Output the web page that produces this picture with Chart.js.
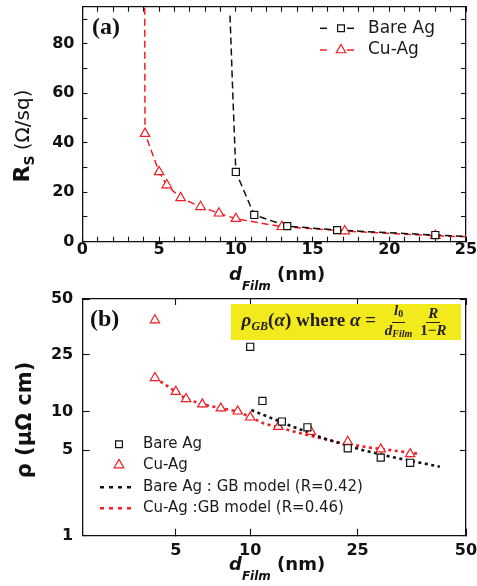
<!DOCTYPE html>
<html>
<head>
<meta charset="utf-8">
<script src="https://cdn.jsdelivr.net/npm/chart.js@4.4.0/dist/chart.umd.min.js"></script>
<style>
  html, body { margin: 0; padding: 0; background: #fff; }
  #wrap { position: relative; width: 477px; height: 586px; overflow: hidden; font-family: 'DejaVu Sans', sans-serif; color: #111; }
  .box { position: absolute; left: 0; width: 477px; }
  #boxA { top: 0; height: 290px; }
  #boxB { top: 290px; height: 296px; }
  .tag { position: absolute; font: bold 24px 'Liberation Serif', serif; line-height: 24px; }
  .ytitle { position: absolute; transform: translate(-50%, -50%) rotate(-90deg); white-space: nowrap; line-height: 24px; }
  .xtitle { position: absolute; left: 229px; white-space: nowrap; font: bold 18px 'DejaVu Sans', sans-serif; line-height: 18px; }
  .xtitle .d { font-style: italic; }
  .xtitle .sub { font-size: 12px; font-style: italic; vertical-align: -10px; }
  .eq { position: absolute; left: 231px; top: 304px; width: 230px; height: 36px; background: #f2ea1d;
        font: bold 19px 'Liberation Serif', serif; color: #231f20; display: flex; align-items: center; justify-content: center; white-space: nowrap; }
  .eq i { font-style: italic; }
  .eq .s { font-size: 12px; vertical-align: -4px; }
  .frac { display: inline-flex; flex-direction: column; align-items: center; vertical-align: middle; font-size: 15px; line-height: 15px; margin: 0 4px; }
  .frac .s { font-size: 10px; vertical-align: -2px; }
  .frac .n { border-bottom: 1.2px solid #231f20; padding: 0 2px 1px; }
</style>
</head>
<body>
<div id="wrap">
  <div class="box" id="boxA"><canvas id="rsChart"></canvas></div>
  <div class="box" id="boxB"><canvas id="rhoChart"></canvas></div>

  <div class="tag" style="left:92px; top:14px;">(a)</div>
  <div class="tag" style="left:90px; top:306px;">(b)</div>

  <div class="ytitle" style="left:25px; top:136px;"><span style="font-weight:bold; font-size:22px;">R</span><span style="font-weight:bold; font-size:14px; vertical-align:-5px;">S</span> <span style="font-size:20px;">(Ω/sq)</span></div>
  <div class="ytitle" style="left:24px; top:420px; font-weight:bold; font-size:21px;">ρ (μΩ cm)</div>

  <div class="xtitle" style="top:265px;"><span class="d">d</span><span class="sub">Film</span> (nm)</div>
  <div class="xtitle" style="top:555px;"><span class="d">d</span><span class="sub">Film</span> (nm)</div>

  <div class="eq"><span>
    <i>ρ</i><i class="s">GB</i>(<i>α</i>)&nbsp;where&nbsp;<i>α</i>&nbsp;=&nbsp;<span class="frac"><span class="n"><i>l</i><span class="s">0</span></span><span><i>d</i><i class="s">Film</i></span></span><span class="frac"><span class="n"><i>R</i></span><span>1−<i>R</i></span></span>
  </span></div>
</div>

<script>
  // ---- panel (a): sheet resistance vs film thickness ----
  const seriesNames = ['Bare Ag', 'Cu-Ag'];
  const rsFilmBare = [10, 11.2, 13.35, 16.6, 23];
  const rsBare = [28.2, 10.8, 6.3, 4.7, 2.7];
  const rsFilmCu = [4.08, 5, 5.5, 6.4, 7.7, 8.9, 10, 13, 17.1, 23];
  const rsCu = [43.7, 28.2, 22.9, 17.7, 14.1, 11.5, 9.3, 6.05, 4.3, 2.4];
  // dashed guide curves
  const rsCurveFilmBare = [9.62, 9.8, 10, 11.2, 13.35, 16.6, 23, 25];
  const rsCurveBare = [91.4, 60, 28.2, 10.8, 6.3, 4.7, 2.7, 2.1];
  const rsCurveFilmCu = [4.06, 4.08, 5, 5.5, 6.4, 7.7, 8.9, 10, 13, 17.1, 23, 25];
  const rsCurveCu = [99, 43.7, 28.2, 22.9, 17.7, 14.1, 11.5, 9.3, 6.05, 4.3, 2.4, 2.0];
  const rsXLabels = [0, 5, 10, 15, 20, 25];
  const rsYLabels = [0, 20, 40, 60, 80];

  // ---- panel (b): resistivity vs film thickness ----
  const rhoFilmBare = [10, 11.1, 13.1, 16.3, 23, 29, 35];
  const rhoBare = [27.5, 11.9, 8.4, 7.57, 5.18, 4.35, 3.95];
  const rhoFilmCu = [4.07, 4.07, 5, 5.5, 6.4, 7.6, 8.9, 10, 12.7, 16.8, 23, 29, 35];
  const rhoCu = [38.4, 17.2, 13.8, 12.3, 11.3, 10.6, 10.1, 9.07, 7.65, 7.0, 5.84, 5.09, 4.66];
  // GB model (dotted)
  const gbFilmBare = [10.1, 13.85, 18.7, 25.9, 30.8, 42.3];
  const gbBare = [10.3, 7.9, 6.2, 5.0, 4.43, 3.67];
  const gbFilmCu = [4.07, 5, 5.5, 6.4, 7.6, 8.9, 11.2, 15.75, 21.5, 27.1, 36.9];
  const gbCu = [17.2, 13.8, 12.3, 11.3, 10.6, 10.1, 8.14, 6.7, 5.73, 5.24, 4.69];
  const gbNames = ['Bare Ag : GB model (R=0.42)', 'Cu-Ag :GB model (R=0.46)'];
  const rhoXTicks = [5, 10, 25, 50];
  const rhoYTicks = [1, 5, 10, 25, 50];

  const red = '#ee1f26';
  const ink = '#111';

  Chart.defaults.font.family = "'DejaVu Sans', sans-serif";
  Chart.defaults.color = ink;

  function pts(xs, ys) { return xs.map((x, i) => ({ x: x, y: ys[i] })); }

  // the (b) axes are log-like but stretched piecewise between the labelled ticks
  const warps = {
    x: { knots: [2, 5, 10, 25, 50], at: [0, 0.243, 0.437, 0.717, 1] },
    y: { knots: [1, 5, 10, 25, 50], at: [0, 0.361, 0.523, 0.766, 1] }
  };

  class WarpedLogScale extends Chart.LinearScale {
    static id = 'warpedLog';
    getPixelForValue(v) {
      if (v == null || isNaN(v) || v <= 0) return NaN;
      const w = warps[this.options.warp];
      let i = 0;
      while (i < w.knots.length - 2 && v > w.knots[i + 1]) i++;
      const t = Math.log(v / w.knots[i]) / Math.log(w.knots[i + 1] / w.knots[i]);
      return this.getPixelForDecimal(w.at[i] + t * (w.at[i + 1] - w.at[i]));
    }
    getValueForPixel(p) {
      const w = warps[this.options.warp];
      const d = this.getDecimalForPixel(p);
      let i = 0;
      while (i < w.at.length - 2 && d > w.at[i + 1]) i++;
      const t = (d - w.at[i]) / (w.at[i + 1] - w.at[i]);
      return w.knots[i] * Math.pow(w.knots[i + 1] / w.knots[i], t);
    }
  }
  Chart.register(WarpedLogScale);

  function axis(o) {
    return {
      type: o.type || 'linear',
      position: o.pos,
      min: o.min, max: o.max,
      warp: o.warp,
      afterBuildTicks: s => { s.ticks = o.ticks.map(v => ({ value: v })); },
      afterFit: s => {
        if (s.isHorizontal()) { s.height = o.size; s.paddingLeft = 0; s.paddingRight = 0; }
        else { s.width = o.size; s.paddingTop = 0; s.paddingBottom = 0; }
      },
      ticks: {
        autoSkip: false, maxRotation: 0, padding: o.pad || 0, color: ink,
        font: { size: 16, weight: 'bold' },
        callback: v => (o.labels || []).includes(v) ? String(v) : ''
      },
      grid: { drawOnChartArea: false, drawTicks: true, tickLength: -o.tick, tickColor: ink, tickWidth: 1.1 },
      border: { display: true, color: ink, width: 1.3 }
    };
  }

  function insideLegend(rows) {
    return {
      id: 'insideLegend',
      afterDraw(chart) {
        const ctx = chart.ctx;
        ctx.save();
        rows.forEach(r => {
          ctx.strokeStyle = r.color;
          ctx.lineWidth = r.lineWidth || 1.5;
          ctx.setLineDash(r.dash || []);
          (r.segs || []).forEach(s => {
            ctx.beginPath(); ctx.moveTo(s[0], r.y); ctx.lineTo(s[1], r.y); ctx.stroke();
          });
          ctx.setLineDash([]);
          if (r.marker) {
            ctx.fillStyle = '#fff';
            ctx.lineWidth = 1.2;
            Chart.helpers.drawPoint(ctx, { pointStyle: r.marker, radius: r.radius, rotation: 0, borderWidth: 1.2 }, r.mx, r.y);
          }
          ctx.fillStyle = '#1a1a1a';
          ctx.font = r.font;
          ctx.textBaseline = 'middle';
          ctx.textAlign = 'left';
          ctx.fillText(r.label, r.tx, r.y);
        });
        ctx.restore();
      }
    };
  }

  const minorX = Array.from({ length: 26 }, (_, i) => i);
  const minorY = Array.from({ length: 10 }, (_, i) => i * 10);

  const rsChart = new Chart(document.getElementById('rsChart'), {
    type: 'scatter',
    data: {
      datasets: [
        { label: seriesNames[0], data: pts(rsFilmBare, rsBare), pointStyle: 'rect', pointRadius: 5,
          borderColor: ink, backgroundColor: '#fff', borderWidth: 1.2 },
        { label: 'bare-x', data: pts(rsFilmBare, rsBare), pointStyle: 'cross',
          pointRadius: c => c.dataIndex === 0 ? 0 : 3.4, borderColor: ink, borderWidth: 1 },
        { label: seriesNames[1], data: pts(rsFilmCu, rsCu), pointStyle: 'triangle', pointRadius: 5.5,
          borderColor: red, backgroundColor: '#fff', borderWidth: 1.2 },
        { label: 'cu-x', data: pts(rsFilmCu, rsCu), pointStyle: 'cross', pointRadius: 3.5,
          borderColor: red, borderWidth: 1 },
        { label: 'bare-curve', data: pts(rsCurveFilmBare, rsCurveBare), showLine: true, pointRadius: 0,
          borderColor: ink, borderWidth: 1.5, borderDash: [7, 4] },
        { label: 'cu-curve', data: pts(rsCurveFilmCu, rsCurveCu), showLine: true, pointRadius: 0,
          borderColor: red, borderWidth: 1.5, borderDash: [7, 4] }
      ]
    },
    options: {
      responsive: true, maintainAspectRatio: false, animation: false, events: [],
      layout: { padding: { top: 5.5, right: 11, left: 0, bottom: 0 } },
      plugins: { legend: { display: false }, tooltip: { enabled: false } },
      scales: {
        x: axis({ pos: 'bottom', min: 0, max: 25, ticks: minorX, labels: rsXLabels, tick: 5, pad: 4, size: 48.3 }),
        y: axis({ pos: 'left', min: 0, max: 95, ticks: minorY, labels: rsYLabels, tick: 5, pad: 13, size: 82.4 }),
        xTop: axis({ pos: 'top', min: 0, max: 25, ticks: minorX, tick: 5, size: 0 }),
        yRight: axis({ pos: 'right', min: 0, max: 95, ticks: minorY, tick: 5, size: 0 })
      }
    },
    plugins: [insideLegend([
      { label: seriesNames[0], color: ink, y: 28.3, segs: [[320, 327], [347, 354]], dash: [], marker: 'rect', radius: 4.8, mx: 341, tx: 368, font: "17px 'DejaVu Sans'" },
      { label: seriesNames[1], color: red, y: 50, segs: [[320, 327], [347, 354]], dash: [], marker: 'triangle', radius: 5.5, mx: 341, tx: 368, font: "17px 'DejaVu Sans'" }
    ])]
  });

  const rhoChart = new Chart(document.getElementById('rhoChart'), {
    type: 'scatter',
    data: {
      datasets: [
        { label: seriesNames[0], data: pts(rhoFilmBare, rhoBare), pointStyle: 'rect', pointRadius: 5,
          borderColor: ink, backgroundColor: '#fff', borderWidth: 1.2 },
        { label: 'bare-x', data: pts(rhoFilmBare, rhoBare), pointStyle: 'cross',
          pointRadius: c => c.dataIndex === 0 ? 0 : 3.4, borderColor: ink, borderWidth: 1 },
        { label: seriesNames[1], data: pts(rhoFilmCu, rhoCu), pointStyle: 'triangle', pointRadius: 5.4,
          borderColor: red, backgroundColor: '#fff', borderWidth: 1.2 },
        { label: 'cu-x', data: pts(rhoFilmCu, rhoCu), pointStyle: 'cross', pointRadius: 3.5,
          borderColor: red, borderWidth: 1 },
        { label: gbNames[0], data: pts(gbFilmBare, gbBare), showLine: true, pointRadius: 0,
          borderColor: ink, borderWidth: 2.6, borderDash: [3, 3.5] },
        { label: gbNames[1], data: pts(gbFilmCu, gbCu), showLine: true, pointRadius: 0,
          borderColor: red, borderWidth: 2.6, borderDash: [3, 3.5] }
      ]
    },
    options: {
      responsive: true, maintainAspectRatio: false, animation: false, events: [],
      layout: { padding: { top: 9, right: 11, left: 0, bottom: 0 } },
      plugins: { legend: { display: false }, tooltip: { enabled: false } },
      scales: {
        x: axis({ type: 'warpedLog', warp: 'x', pos: 'bottom', min: 2, max: 50, ticks: rhoXTicks, labels: rhoXTicks, tick: 7, pad: 13, size: 50.3 }),
        y: axis({ type: 'warpedLog', warp: 'y', pos: 'left', min: 1, max: 50, ticks: rhoYTicks, labels: rhoYTicks, tick: 7, pad: 16.5, size: 82.7 }),
        xTop: axis({ type: 'warpedLog', warp: 'x', pos: 'top', min: 2, max: 50, ticks: rhoXTicks, tick: 6, size: 0 }),
        yRight: axis({ type: 'warpedLog', warp: 'y', pos: 'right', min: 1, max: 50, ticks: rhoYTicks, tick: 6, size: 0 })
      }
    },
    plugins: [insideLegend([
      { label: seriesNames[0], color: ink, y: 154.3, marker: 'rect', radius: 4.8, mx: 119, tx: 143, font: "15px 'DejaVu Sans'" },
      { label: seriesNames[1], color: red, y: 175, marker: 'triangle', radius: 5.6, mx: 119, tx: 143, font: "15px 'DejaVu Sans'" },
      { label: gbNames[0], color: ink, y: 197.3, segs: [[100, 133]], dash: [4, 5], lineWidth: 2.6, tx: 143, font: "15px 'DejaVu Sans'" },
      { label: gbNames[1], color: red, y: 218.3, segs: [[100, 133]], dash: [4, 5], lineWidth: 2.6, tx: 143, font: "15px 'DejaVu Sans'" }
    ])]
  });
</script>
</body>
</html>
